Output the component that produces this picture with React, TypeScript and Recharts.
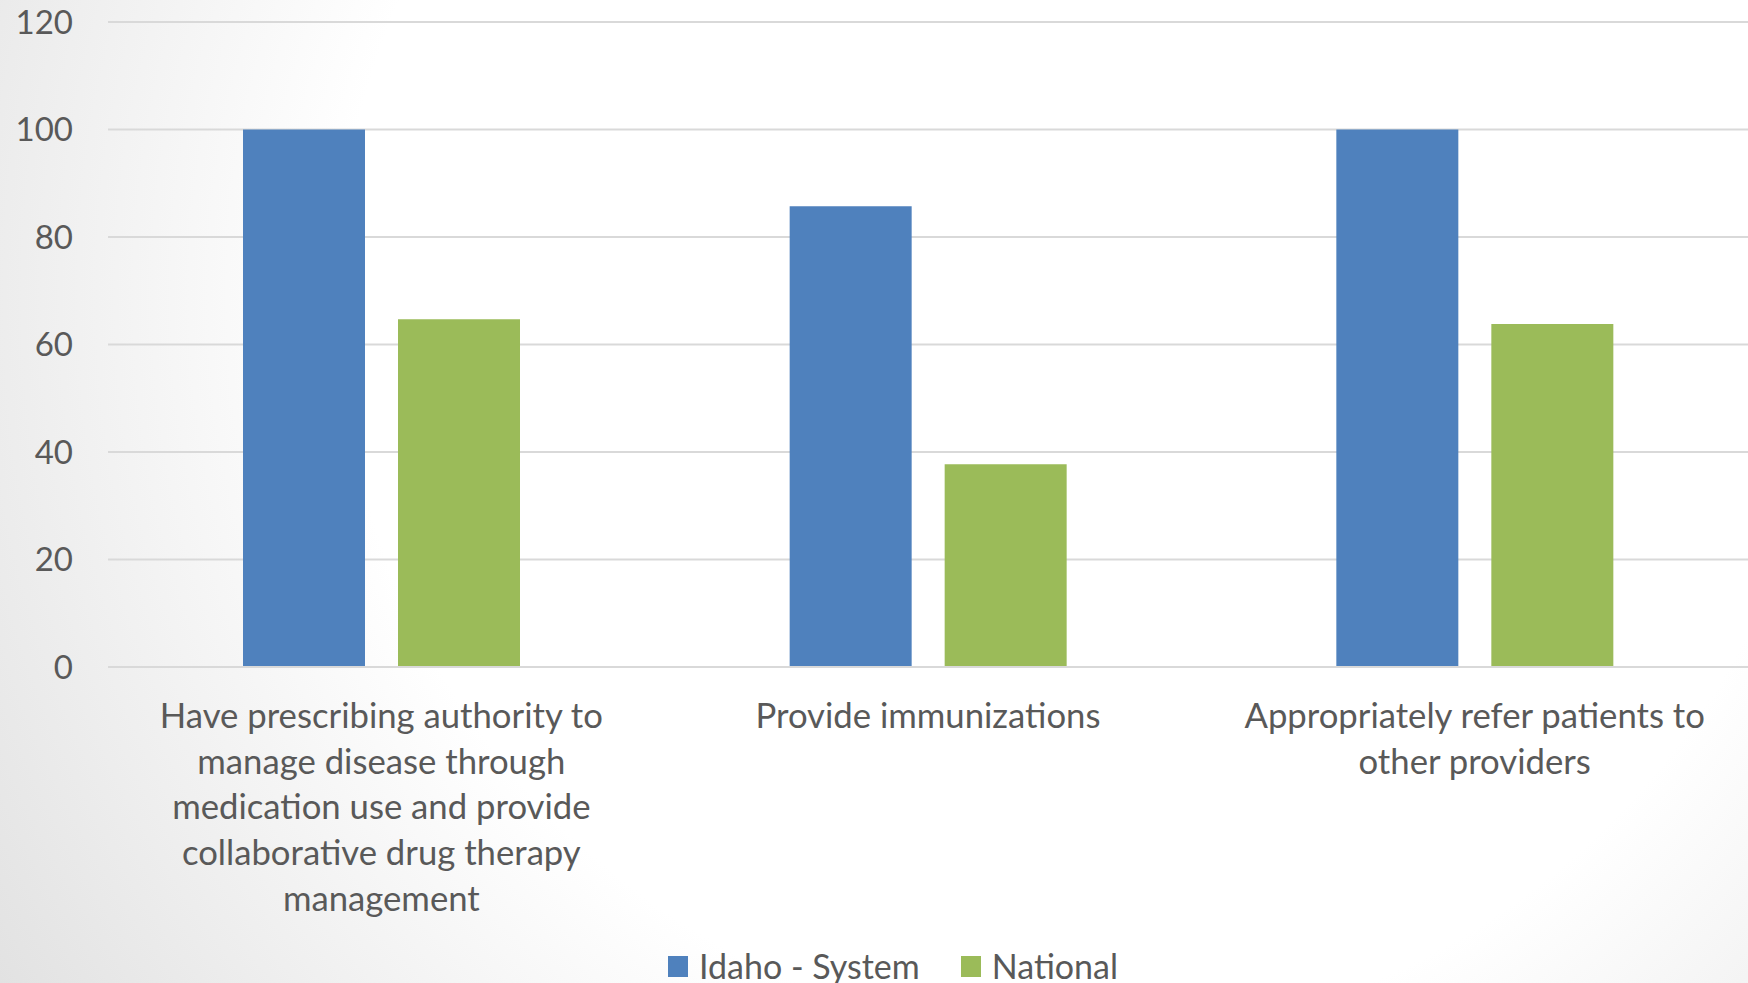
import React from "react";
import { BarChart, Bar, XAxis, YAxis, CartesianGrid, Legend } from "recharts";

const categories = [
  "Have prescribing authority to\nmanage disease through\nmedication use and provide\ncollaborative drug therapy\nmanagement",
  "Provide immunizations",
  "Appropriately refer patients to\nother providers",
];
const idahoValues = [100, 85.7, 100];
const nationalValues = [64.7, 37.7, 63.8];
const yTicks = [0, 20, 40, 60, 80, 100, 120];
const seriesNames = ["Idaho - System", "National"];
const seriesColors = ["#4F81BD", "#9BBB59"];

const data = categories.map((c, i) => ({
  category: c,
  idaho: idahoValues[i],
  national: nationalValues[i],
}));

const FONT = "Lato, 'Open Sans', sans-serif";
const TEXT = "#595959";
const FS = 34;

const CategoryTick = (props: any) => {
  const { x, y, payload } = props;
  const lines = String(payload.value).split("\n");
  return (
    <text
      x={x}
      y={y}
      textAnchor="middle"
      fill={TEXT}
      fontFamily={FONT}
      fontSize={34.7}
    >
      {lines.map((l, i) => (
        <tspan key={i} x={x} y={y + 61 + i * 45.7}>
          {l}
        </tspan>
      ))}
    </text>
  );
};

const LegendContent = () => (
  <div
    style={{
      display: "flex",
      alignItems: "center",
      paddingLeft: 668,
      fontFamily: FONT,
      fontSize: FS,
      color: TEXT,
      lineHeight: "40px",
    }}
  >
    {seriesNames.map((n, i) => (
      <div
        key={n}
        style={{ display: "flex", alignItems: "center", marginRight: 41 }}
      >
        <div
          style={{
            width: 20,
            height: 21,
            background: seriesColors[i],
            marginRight: 11,
          }}
        />
        <span>{n}</span>
      </div>
    ))}
  </div>
);

export default function App() {
  return (
    <div
      style={{
        position: "absolute",
        left: 0,
        top: 0,
        width: 1748,
        height: 983,
        background:
          "radial-gradient(circle farthest-corner at 62% 30%, #ffffff 0%, #ffffff 58%, #e2e2e2 100%)",
      }}
    >
      <BarChart
        width={1748}
        height={983}
        data={data}
        margin={{ top: 22, right: 0, bottom: 0, left: 0 }}
        barCategoryGap={135}
        barGap={33}
      >
        <CartesianGrid
          vertical={false}
          stroke="#D9D9D9"
          strokeWidth={2}
        />
        <XAxis
          dataKey="category"
          height={316}
          interval={0}
          tick={<CategoryTick />}
          tickLine={false}
          axisLine={{ stroke: "#D9D9D9", strokeWidth: 2 }}
          tickSize={0}
          tickMargin={0}
        />
        <YAxis
          width={108}
          domain={[0, 120]}
          ticks={yTicks}
          interval={0}
          tickLine={false}
          axisLine={false}
          tickSize={0}
          tickMargin={35}
          tick={{ fill: TEXT, fontFamily: FONT, fontSize: 33 }}
        />
        <Legend
          layout="horizontal"
          verticalAlign="middle"
          align="center"
          content={<LegendContent />}
          wrapperStyle={{ position: "absolute", top: 946, left: 0, width: 1748 }}
        />
        <Bar
          dataKey="idaho"
          name={seriesNames[0]}
          fill={seriesColors[0]}
          isAnimationActive={false}
        />
        <Bar
          dataKey="national"
          name={seriesNames[1]}
          fill={seriesColors[1]}
          isAnimationActive={false}
        />
      </BarChart>
    </div>
  );
}
